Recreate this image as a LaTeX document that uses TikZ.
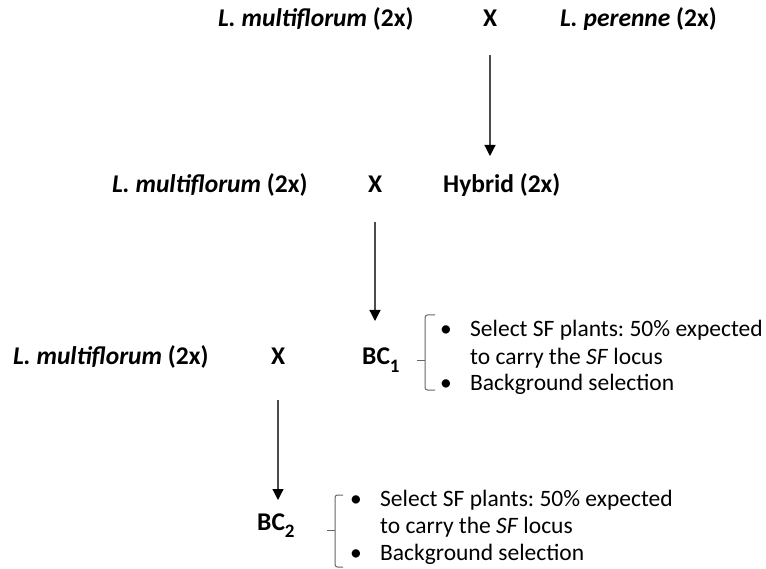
\documentclass[tikz,border=0pt]{standalone}
\usepackage{fontspec}
\setmainfont{Carlito}
\usetikzlibrary{arrows.meta}
\newcommand{\subnum}[1]{\raisebox{-0.28em}{\fontsize{19}{19}\selectfont #1}}
\tikzset{
  lbl/.style={anchor=base west, inner sep=0pt, font=\fontsize{25.5}{30}\selectfont\bfseries},
  txt/.style={anchor=base west, inner sep=0pt, font=\fontsize{23.5}{27}\selectfont\frenchspacing},
  arr/.style={draw=black!70, line width=1.2pt, -{Triangle[length=11pt,width=11pt,color=black]}},
  brace/.style={draw=black!60, line width=1pt, rounded corners=2.5pt},
}
\begin{document}
\begin{tikzpicture}[x=1pt,y=-1pt]
\useasboundingbox (0,0) rectangle (766,569);
% row 1
\node[lbl] (m1) at (218,27) {\itshape L. multiflorum\/ \upshape (2x)};
\node[lbl] (x1) at (483,27) {X};
\node[lbl] (p1) at (560,27) {\itshape L. perenne\/ \upshape (2x)};
% row 2
\node[lbl] (m2) at (112,193) {\itshape L. multiflorum\/ \upshape (2x)};
\node[lbl] (x2) at (368,193) {X};
\node[lbl] (h2) at (443,193) {Hybrid (2x)};
% row 3
\node[lbl] (m3) at (13,365) {\itshape L. multiflorum\/ \upshape (2x)};
\node[lbl] (x3) at (271,365) {X};
\node[lbl] (bc1) at (362,365) {BC\subnum{1}};
% row 4
\node[lbl] (bc2) at (257,530) {BC\subnum{2}};
% arrows
\coordinate (a1s) at (490,55);  \coordinate (a1e) at (490,156);
\coordinate (a2s) at (375,222); \coordinate (a2e) at (375,321);
\coordinate (a3s) at (278,400); \coordinate (a3e) at (278,500);
\draw[arr] (a1s) -- (a1e);
\draw[arr] (a2s) -- (a2e);
\draw[arr] (a3s) -- (a3e);
% brace 1
\coordinate (b1t) at (435,315); \coordinate (b1b) at (435,390); \coordinate (b1m) at (417,361);
\draw[brace] (b1t) -- (425,315) -- (425,390) -- (b1b);
\draw[brace] (b1m) -- (425,361);
\node[txt] (s1a) at (440,337) {\textbullet};
\node[txt] (s1b) at (470,337) {Select SF plants: 50\% expected};
\node[txt] (s1c) at (470,364) {to carry the \textit{SF} locus};
\node[txt] (s1d) at (440,390) {\textbullet};
\node[txt] (s1e) at (470,390) {Background selection};
% brace 2
\coordinate (b2t) at (343,495); \coordinate (b2b) at (343,567); \coordinate (b2m) at (327,530);
\draw[brace] (b2t) -- (335,495) -- (335,567) -- (b2b);
\draw[brace] (b2m) -- (335,530);
\node[txt] (s2a) at (350,506) {\textbullet};
\node[txt] (s2b) at (380,506) {Select SF plants: 50\% expected};
\node[txt] (s2c) at (380,533) {to carry the \textit{SF} locus};
\node[txt] (s2d) at (350,560) {\textbullet};
\node[txt] (s2e) at (380,560) {Background selection};
\end{tikzpicture}
\end{document}
